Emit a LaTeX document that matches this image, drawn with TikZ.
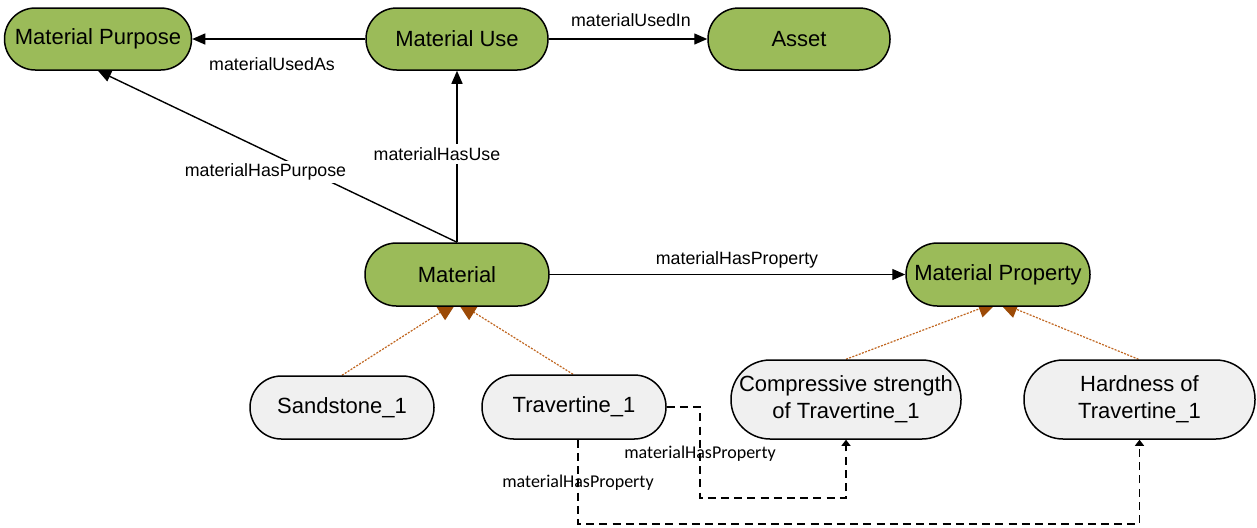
\documentclass[tikz,border=0pt]{standalone}
\usepackage{fontspec}
\setmainfont{Liberation Sans}
\newfontfamily\lblfont{Carlito}
\usetikzlibrary{arrows.meta}
\pgfdeclarelayer{bg}
\pgfsetlayers{bg,main}
\definecolor{nodegreen}{HTML}{9BBB59}
\definecolor{nodegray}{HTML}{F0F0F0}
\definecolor{dotbrown}{HTML}{C0651F}
\definecolor{tipbrown}{HTML}{9C4A06}
\tikzset{
  classbox/.style={draw=black, line width=0.75pt, fill=nodegreen, rectangle,
    rounded corners=15.4pt, minimum width=91pt, minimum height=31pt, inner sep=0pt,
    font=\fontsize{11}{13.5}\selectfont, align=center},
  instbox/.style={draw=black, line width=0.75pt, fill=nodegray, rectangle,
    rounded corners=15.7pt, minimum width=92pt, minimum height=31.5pt, inner sep=0pt,
    font=\fontsize{11}{13.5}\selectfont, align=center},
  tallbox/.style={instbox, rounded corners=19.6pt, minimum height=39.5pt, minimum width=115pt},
  rel/.style={draw=black, line width=0.7pt, -{Triangle[length=6.5pt,width=5.5pt]}},
  isa/.style={draw=dotbrown, line width=0.6pt, dash pattern=on 1pt off 0.7pt,
    -{Triangle[length=10pt,width=9pt,color=tipbrown,fill=tipbrown,sep=0pt]}},
  propline/.style={draw=black, line width=0.6pt, dash pattern=on 4pt off 2.6pt,
    -{Triangle[length=3pt,width=4.5pt]}},
  lbl/.style={font=\fontsize{8.9}{10}\selectfont, inner sep=1.5pt},
  lblw/.style={lbl, fill=white},
  dlbl/.style={font=\lblfont\fontsize{9}{10}\selectfont, inner sep=0pt},
}
\begin{document}
\begin{tikzpicture}[x=0.5pt, y=-0.5pt]
\useasboundingbox (0,0) rectangle (1257,527);

% class nodes
\node[classbox, minimum width=93.5pt] (mp) at (98,39) {Material Purpose};
\node[classbox] (mu) at (457,39) {Material Use};
\node[classbox] (asset) at (799,39) {Asset};
\node[classbox, minimum width=92pt, minimum height=31.5pt, rounded corners=15.7pt] (mat) at (457,274.5) {Material};
\node[classbox, minimum width=92pt, minimum height=31.5pt, rounded corners=15.7pt] (mprop) at (998,274.5) {Material Property};

% instance nodes
\node[instbox] (sand) at (342,407.5) {Sandstone\_1};
\node[instbox, minimum height=32pt, rounded corners=15.9pt] (trav) at (574,407) {Travertine\_1};
\node[tallbox] (comp) at (846,399.5) {Compressive strength\\of Travertine\_1};
\node[tallbox, minimum width=115.5pt] (hard) at (1139.5,399.5) {Hardness of\\Travertine\_1};

% solid relations
\draw[rel] (mu.west) -- (mp.east);
\draw[rel] (mu.east) -- (asset.west);
\draw[rel] (mat.north) -- (mu.south);
\draw[rel] (mat.north) -- (mp.south);
\draw[rel] (mat.east) -- (mprop.west);

\node[lbl] (lUsedAs) at (272,64) {materialUsedAs};
\node[lbl] (lUsedIn) at (631,20) {materialUsedIn};
\node[lblw] (lHasUse) at (437,154) {materialHasUse};
\node[lblw] (lHasPurpose) at (265.5,172) {materialHasPurpose};
\node[lbl] (lHasProp) at (737,260) {materialHasProperty};

% subclass / instance-of (dotted brown), tips hidden under the class node
\coordinate (matIn) at ([yshift=2.5pt]mat.south);
\coordinate (mpropIn) at ([yshift=2.5pt]mprop.south);
\begin{pgfonlayer}{bg}
\draw[isa] (sand.north) -- (matIn);
\draw[isa] ([xshift=-0.5pt]trav.north) -- (matIn);
\draw[isa] (comp.north) -- (mpropIn);
\draw[isa] ([xshift=-0.5pt]hard.north) -- (mpropIn);
\end{pgfonlayer}

% dashed property links
\coordinate (c1) at (700,407);
\coordinate (c2) at (700,498);
\coordinate (c3) at (846,498);
\draw[propline] (trav.east) -- (c1) -- (c2) -- (c3) -- (comp.south);
\coordinate (d1) at (578,524);
\coordinate (d2) at (1139.5,524);
\draw[propline] ([xshift=2pt]trav.south) -- (d1) -- (d2) -- (hard.south);

\node[dlbl] (lProp1) at (700,454) {materialHasProperty};
\node[dlbl] (lProp2) at (578,483) {materialHasProperty};
\end{tikzpicture}
\end{document}
